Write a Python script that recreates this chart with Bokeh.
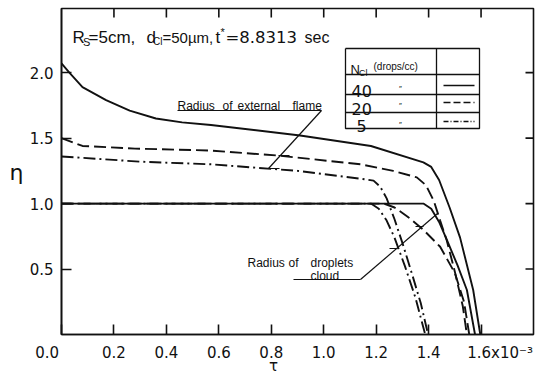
import math
from bokeh.plotting import figure
from bokeh.models import (Range1d, FixedTicker, PrintfTickFormatter, LinearAxis,
                          Label, CustomJSTickFormatter)
from bokeh.embed import file_html
from bokeh.resources import INLINE

# ---- data: dimensionless radius eta versus dimensionless time tau (x 1e-3) ----
# N_Cl = 40 drops/cc (solid)
tau_flame_40 = [0.0, 0.03, 0.08, 0.17, 0.26, 0.36, 0.46, 0.57, 0.91, 1.18, 1.38, 1.41, 1.44, 1.48, 1.52, 1.57, 1.597]
eta_flame_40 = [2.07, 2.00, 1.89, 1.79, 1.71, 1.65, 1.62, 1.60, 1.52, 1.44, 1.315, 1.28, 1.18, 0.97, 0.74, 0.34, 0.0]
tau_cloud_40 = [0.0, 1.38, 1.41, 1.44, 1.47, 1.51, 1.546, 1.577]
eta_cloud_40 = [1.0, 1.0, 0.96, 0.86, 0.72, 0.53, 0.34, 0.0]

# N_Cl = 20 drops/cc (dashed)
tau_flame_20 = [0.0, 0.08, 0.28, 0.57, 0.83, 1.14, 1.265, 1.355, 1.39, 1.42, 1.444, 1.469, 1.50, 1.53, 1.546]
eta_flame_20 = [1.50, 1.44, 1.42, 1.405, 1.366, 1.30, 1.25, 1.20, 1.14, 1.02, 0.87, 0.72, 0.48, 0.22, 0.0]
tau_cloud_20 = [0.0, 1.23, 1.27, 1.32, 1.38, 1.444, 1.50, 1.535, 1.555]
eta_cloud_20 = [1.0, 1.0, 0.97, 0.90, 0.80, 0.67, 0.47, 0.25, 0.0]

# N_Cl = 5 drops/cc (dash-dot)
tau_flame_5 = [0.0, 0.3, 0.57, 0.9, 1.14, 1.19, 1.215, 1.24, 1.27, 1.30, 1.34, 1.37, 1.398]
eta_flame_5 = [1.36, 1.32, 1.30, 1.25, 1.19, 1.175, 1.13, 1.04, 0.88, 0.70, 0.44, 0.24, 0.0]
tau_cloud_5 = [0.0, 1.18, 1.21, 1.24, 1.27, 1.31, 1.35, 1.387]
eta_cloud_5 = [1.0, 1.0, 0.96, 0.87, 0.74, 0.52, 0.28, 0.0]

n_cl_labels = ["40", "20", "5"]
x_ticks = [0.0, 0.2, 0.4, 0.6, 0.8, 1.0, 1.2, 1.4, 1.6]
y_ticks = [0.5, 1.0, 1.5, 2.0]

# ---- layout ----
W, H = 536, 378
FL, FR, FT, FB = 61, 533, 8, 334          # frame edges in pixels
X0, X1 = 0.0, 1.8
Y0, Y1 = 0.0, 2.49

TXT = "Liberation Sans"
NUM = "DejaVu Sans"
INK = "#111111"
NB = "\u00a0"


def sx(px):
    return X0 + (px - FL) / (FR - FL) * (X1 - X0)


def sy(py):
    return Y0 + (FB - py) / (FB - FT) * (Y1 - Y0)


p = figure(width=W, height=H, output_backend="svg", toolbar_location=None,
           x_range=Range1d(X0, X1), y_range=Range1d(Y0, Y1),
           min_border_left=FL, min_border_right=W - FR,
           min_border_top=FT, min_border_bottom=H - FB)
p.grid.visible = False
p.background_fill_color = "white"
p.border_fill_color = "white"
p.outline_line_color = INK
p.outline_line_width = 1.6


def style_axis(ax, ticks):
    ax.ticker = FixedTicker(ticks=ticks)
    ax.axis_line_color = INK
    ax.axis_line_width = 1.6
    ax.major_tick_line_color = INK
    ax.major_tick_line_width = 1.6
    ax.major_tick_in = 10
    ax.major_tick_out = 0
    ax.minor_tick_in = 0
    ax.minor_tick_out = 0
    ax.major_label_text_font = NUM
    ax.major_label_text_font_size = "15px"
    ax.major_label_text_color = INK


xa = p.xaxis[0]
style_axis(xa, x_ticks)
xa.major_label_standoff = 9
# origin label sits at the corner, last label carries the 10^-3 scale factor
xa.formatter = CustomJSTickFormatter(code=f"""
    if (Math.abs(tick) < 1e-9) {{ return "0.0{NB * 6}"; }}
    if (Math.abs(tick - 1.6) < 1e-9) {{ return "{NB * 8}1.6x10\u207b\u00b3"; }}
    return tick.toFixed(1);
""")

ya = p.yaxis[0]
style_axis(ya, y_ticks)
ya.formatter = PrintfTickFormatter(format="%.1f")
ya.major_label_standoff = 8
ya.major_label_orientation = "horizontal"


def name_axis(symbol, pos, size, standoff, where):
    ax = LinearAxis(ticker=FixedTicker(ticks=[pos]),
                    formatter=CustomJSTickFormatter(code=f"return '{symbol}';"),
                    axis_line_color=None, major_tick_line_color=None,
                    minor_tick_line_color=None, major_label_standoff=standoff,
                    major_label_text_font=NUM, major_label_text_font_size=f"{size}px",
                    major_label_text_color=INK, major_label_orientation="horizontal")
    p.add_layout(ax, where)


name_axis("\u03b7", sy(172), 22, -3, "left")
name_axis("\u03c4", sx(273), 15, -14, "below")

# inward ticks on the top and right edges (half of each dash is clipped by the frame)
p.scatter(x_ticks[1:], [Y1] * (len(x_ticks) - 1), marker="dash", angle=math.pi / 2,
          size=18, line_color=INK, line_width=1.6)
p.scatter([X1] * len(y_ticks), y_ticks, marker="dash", size=16,
          line_color=INK, line_width=1.6)

# ---- curves ----
SOLID, DASH, DASHDOT = "solid", "12 5", "12 4 2 4"
LW = 1.9
for t, e, d in [(tau_flame_40, eta_flame_40, SOLID), (tau_cloud_40, eta_cloud_40, SOLID),
                (tau_flame_20, eta_flame_20, DASH), (tau_cloud_20, eta_cloud_20, DASH),
                (tau_flame_5, eta_flame_5, DASHDOT), (tau_cloud_5, eta_cloud_5, DASHDOT)]:
    p.line(t, e, line_color=INK, line_width=LW, line_dash=d)


def label(text, px, py, size, font=TXT, align="left", baseline="alphabetic"):
    p.add_layout(Label(x=sx(px), y=sy(py), text=text, text_font=font,
                       text_font_size=f"{size}px", text_align=align,
                       text_baseline=baseline, text_color=INK))


def seg(pts, width=1.2, dash="solid"):
    p.line([sx(a) for a, _ in pts], [sy(b) for _, b in pts], line_color=INK,
           line_width=width, line_dash=dash)


# ---- heading with sub/superscripts ----
for txt, px, py, sz, fnt in [("R", 72, 37, 17, TXT), ("S", 82.5, 41, 11, TXT),
                             ("=5cm,", 88, 37, 17, TXT),
                             ("d", 146, 37, 17, TXT), ("Cl", 152.5, 41, 10, TXT),
                             ("=50µm,", 162, 37, 15, TXT),
                             ("t", 215, 37, 17, TXT), ("*", 220, 31, 11, TXT),
                             ("=8.8313", 225, 37, 16.5, NUM), ("sec", 304, 37, 16, TXT)]:
    label(txt, px, py, sz, font=fnt)

# ---- N_Cl key table ----
TL, TR, TT, TB, TC = 345, 479, 48, 128, 436
ROWS = [74, 94, 112]
seg([(TL, TT), (TR, TT), (TR, TB), (TL, TB), (TL, TT)], 1.3)
for ry in ROWS:
    seg([(TL, ry), (TR, ry)], 1.3)
seg([(TC, TT), (TC, TB)], 1.3)

label("N", 350, 69, 13)
label("Cl", 358.5, 72, 9)
label("(drops/cc)", 373, 66, 10)
row_base = [90, 108, 125]
row_mid = [85, 102, 121]
for lab_txt, by, my, dash in zip(n_cl_labels, row_base, row_mid, ["solid", "7 3", "5 2 1 2"]):
    label(lab_txt, 351 if len(lab_txt) > 1 else 356, by, 16, font=NUM)
    label("\u2033", 400, my + 3, 8, align="center", baseline="middle")
    seg([(443, my), (474, my)], 1.5, dash)

# ---- annotation: radius of external flame ----
for txt, px in [("Radius", 177), ("of", 222), ("external", 237), ("flame", 292)]:
    label(txt, px, 105, 12)
seg([(177, 110), (321, 110)])
seg([(321, 110), (268, 168)])
seg([(278, 155), (289, 155)])
seg([(268, 168), (279, 168)])

# ---- annotation: radius of droplets cloud ----
for txt, px, py in [("Radius", 247, 262), ("of", 288, 262), ("droplets", 310, 262), ("cloud", 310, 275)]:
    label(txt, px, py, 12)
seg([(293, 279), (360, 279)])
seg([(360, 279), (437, 213)])
seg([(397, 248), (389, 248)])
seg([(423, 226), (415, 226)])

open("out.html", "w").write(file_html(p, INLINE))
